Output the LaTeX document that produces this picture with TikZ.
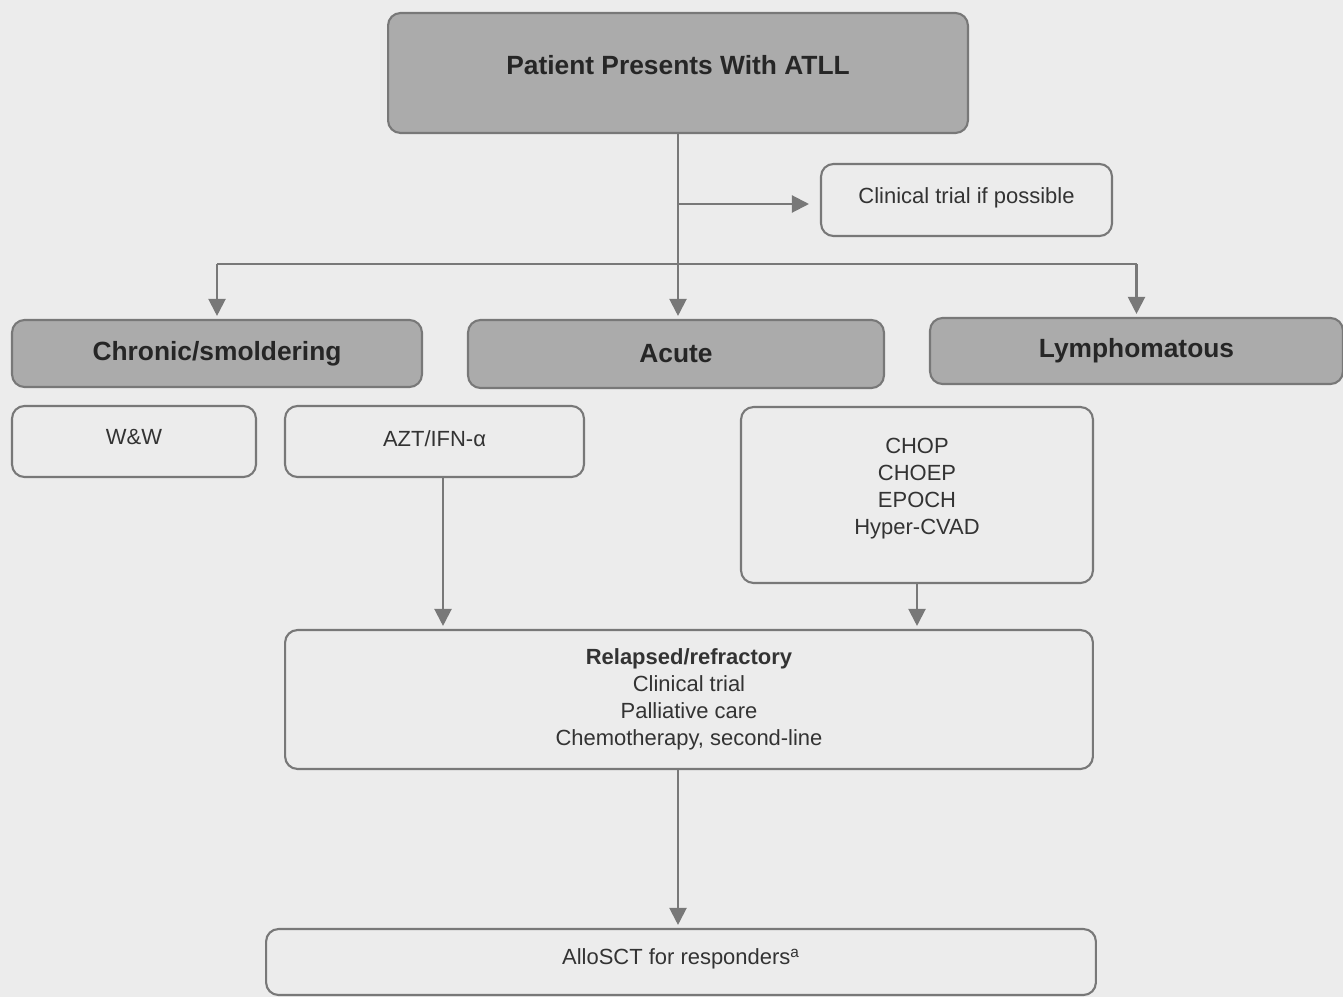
\documentclass[tikz,border=0pt]{standalone}
\usepackage{fontspec}
\setmainfont{Liberation Sans}
\usetikzlibrary{arrows.meta}
\definecolor{paper}{HTML}{ECECEC}
\definecolor{boxgray}{HTML}{ABABAB}
\definecolor{linegray}{HTML}{787878}

\begin{document}
\begin{tikzpicture}[x=0.02cm, y=-0.02cm,
    stage/.style ={rectangle, rounded corners=2.5mm, draw=linegray, line width=1.2pt, fill=boxgray, text=black!85, font=\bfseries\fontsize{15}{17}\selectfont},
    therapy/.style ={rectangle, rounded corners=2.5mm, draw=linegray, line width=1.2pt, fill=paper, text=black!80, align=center, font=\fontsize{12.5}{15.4}\selectfont},
    link/.style ={draw=linegray, line width=1.2pt, -{Triangle[width=3.4mm,length=3.4mm]}, shorten >=0.6mm}]
   \fill[paper] (0,0) rectangle (1343,997);
   \useasboundingbox (0,0) rectangle (1343,997);

   \node[stage, minimum width=11.6cm, minimum height=2.4cm] (atll) at (678,73) {\raisebox{0.16cm}[\height][\depth]{Patient Presents With ATLL}};
   \node[therapy, minimum width=5.82cm, minimum height=1.44cm] (trial) at (966.5,200) {\raisebox{0.04cm}[\height][\depth]{Clinical trial if possible}};
   \node[stage, minimum width=8.2cm, minimum height=1.34cm] (chronic) at (217,353.5) {Chronic/smoldering};
   \node[stage, minimum width=8.32cm, minimum height=1.36cm] (acute) at (676,354) {Acute};
   \node[stage, minimum width=8.26cm, minimum height=1.32cm] (lympho) at (1136.5,351) {Lymphomatous};
   \node[therapy, minimum width=4.88cm, minimum height=1.42cm] (ww) at (134,441.5) {\raisebox{0.08cm}[\height][\depth]{W\&W}};
   \node[therapy, minimum width=5.98cm, minimum height=1.42cm] (azt) at (434.5,441.5) {\raisebox{0.06cm}[\height][\depth]{AZT/IFN-α}};
   \node[therapy, minimum width=7.04cm, minimum height=3.52cm] (chop) at (917,495) {CHOP\\CHOEP\\EPOCH\\Hyper-CVAD\\[-0.18cm]};
   \node[therapy, minimum width=16.16cm, minimum height=2.78cm] (relapsed) at (689,699.5) {\textbf{Relapsed/refractory}\\Clinical trial\\Palliative care\\Chemotherapy, second-line};
   \node[therapy, minimum width=16.6cm, minimum height=1.32cm] (allo) at (681,962) {\raisebox{0.06cm}[\height][\depth]{AlloSCT for responders\textsuperscript{a}}};

   \coordinate (split) at (678,204);
   \coordinate (fork) at (678,264);
   \coordinate (aztout) at (443,477);

   \draw[link] (atll.south) to (atll.south |- acute.north);
   \draw[link, shorten >=2.2mm] (split) to (trial.west |- split);
   \draw[draw=linegray, line width=1.2pt] (chronic.north |- fork) to (lympho.north |- fork);
   \draw[link] (chronic.north |- fork) to (chronic.north);
   \draw[link] (lympho.north |- fork) to (lympho.north);

   \draw[link] (aztout) to (aztout |- relapsed.north);
   \draw[link] (chop.south) to (chop.south |- relapsed.north);
   \draw[link] (relapsed.south -| atll.south) to (allo.north -| atll.south);
 \end{tikzpicture}
\end{document}
